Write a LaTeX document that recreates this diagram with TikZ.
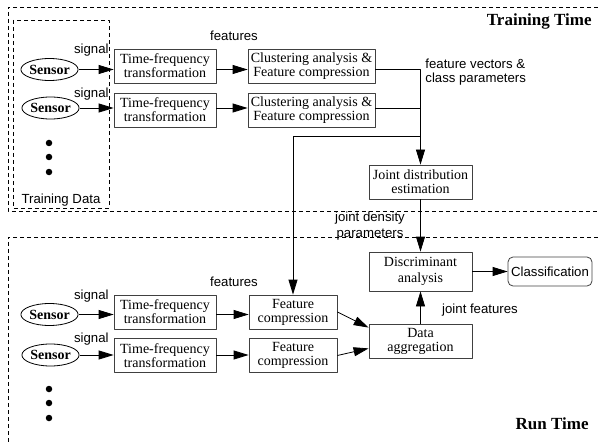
\documentclass[tikz,border=0pt]{standalone}
\usepackage{fontspec}
\setmainfont{Liberation Serif}
\setsansfont{Liberation Sans}
\usetikzlibrary{shapes.geometric,arrows.meta}

\begin{document}
\begin{tikzpicture}[x=1pt, y=-1pt, line width=0.8pt, line join=round, >={Triangle[length=15pt,width=9pt]},
	blk/.style={draw=black!75, inner sep=0pt, align=center, minimum height=34pt, font=\fontsize{14}{14}\selectfont},
	sensor/.style={draw, ellipse, inner sep=0pt, minimum width=56pt, minimum height=22pt, font=\fontsize{14}{14}\selectfont\bfseries},
	lbl/.style={inner sep=0pt, font=\sffamily\fontsize{13.2}{14}\selectfont},
	zone/.style={line width=0.7pt, dash pattern=on 4pt off 3pt},
	dot/.style={circle, fill, inner sep=0pt, minimum size=6.5pt},
	ttl/.style={anchor=east, inner sep=0pt, font=\bfseries\fontsize{17}{17}\selectfont}]
	\useasboundingbox (0,0) rectangle (598,444);
	\draw[zone] (598,7)--(8,7)--(8,211)--(598,211);
	\draw[zone] (13,20) rectangle (109,208);
	\draw[zone] (598,237)--(8,237)--(8,444);
	\node[ttl] (ttltrain) at (592,21){Training Time};
	\node[ttl] (ttlrun) at (589,424){Run Time};
	\node[lbl] (tdata) at (61,200){Training Data};
	\node[sensor] (sen1) at (49.5,69.5){Sensor};
	\node[sensor] (sen2) at (50.5,108){Sensor};
	\node[sensor] (sen3) at (49.5,314.5){Sensor};
	\node[sensor] (sen4) at (50.5,355){Sensor};
	\foreach \y in {143,157,172,389,403,418}
		\node[dot] (dot\y) at (49,\y){};
	\node[blk, minimum width=102pt] (tf1) at (165,66){Time-frequency\\transformation};
	\node[blk, minimum width=102pt] (tf2) at (165,110){Time-frequency\\transformation};
	\node[blk, minimum width=102pt] (tf3) at (165,312){Time-frequency\\transformation};
	\node[blk, minimum width=102pt] (tf4) at (165,355.5){Time-frequency\\transformation};
	\node[blk, minimum width=127pt] (clu1) at (311.5,66){Clustering analysis \&\\Feature compression};
	\node[blk, minimum width=127pt] (clu2) at (311.5,110){Clustering analysis \&\\Feature compression};
	\node[blk, minimum width=88pt] (fc1) at (293,312){Feature\\compression};
	\node[blk, minimum width=88pt] (fc2) at (293,355.5){Feature\\compression};
	\node[blk, minimum width=103pt] (jde) at (420.5,182){Joint distribution\\estimation};
	\node[blk, minimum width=103pt, minimum height=39pt, font=\fontsize{14}{16}\selectfont] (dis) at (420.5,271.5){Discriminant\\analysis};
	\node[blk, minimum width=103pt] (agg) at (420.5,341){Data\\aggregation};
	\node[draw=black!75, rounded corners=5pt, minimum width=84pt, minimum height=29pt, inner sep=0pt, font=\sffamily\fontsize{13.2}{14}\selectfont] (cls) at (550,271.5){Classification};
	\node[lbl, anchor=east] (sig1) at (109,50){signal};
	\node[lbl, anchor=east] (sig2) at (109,94){signal};
	\node[lbl, anchor=east] (sig3) at (109,296){signal};
	\node[lbl, anchor=east] (sig4) at (109,339){signal};
	\node[lbl] (feat1) at (234,36){features};
	\node[lbl] (feat2) at (234,282){features};
	\node[lbl, anchor=west, align=left] (fvec) at (425,72){feature vectors \&\\class parameters};
	\node[lbl, align=center, font=\sffamily\fontsize{13.2}{16}\selectfont] (jdp) at (370,226){joint density\\parameters};
	\node[lbl] (jfeat) at (480,310){joint features};
	\draw[->] (sen1.east)--(sen1.east -| tf1.west);
	\draw[->] (sen2.east)--(sen2.east -| tf2.west);
	\draw[->] (sen3.east)--(sen3.east -| tf3.west);
	\draw[->] (sen4.east)--(sen4.east -| tf4.west);
	\draw[->] (tf1.east |- sen1)--(clu1.west |- sen1);
	\draw[->] (tf2.east |- sen2)--(clu2.west |- sen2);
	\draw[->] (tf3.east |- sen3)--(fc1.west |- sen3);
	\draw[->] (tf4.east |- sen4)--(fc2.west |- sen4);
	\draw[->] (clu1.east |- sen1) -| (jde.north);
	\draw (clu2.east |- sen2)--(jde.north |- sen2);
	\coordinate (fork) at (jde.north |- 0,136);
	\draw[->] (fork) -| (fc1.north);
	\draw[->] (jde.south)--(dis.north);
	\draw[->] (dis.east)--(cls.west);
	\draw[->] (agg.north)--(dis.south);
	\draw[->] (fc1.east)--([yshift=-4pt]agg.north west);
	\draw[->] (fc2.east)--([yshift=10pt]agg.south west);
\end{tikzpicture}
\end{document}
